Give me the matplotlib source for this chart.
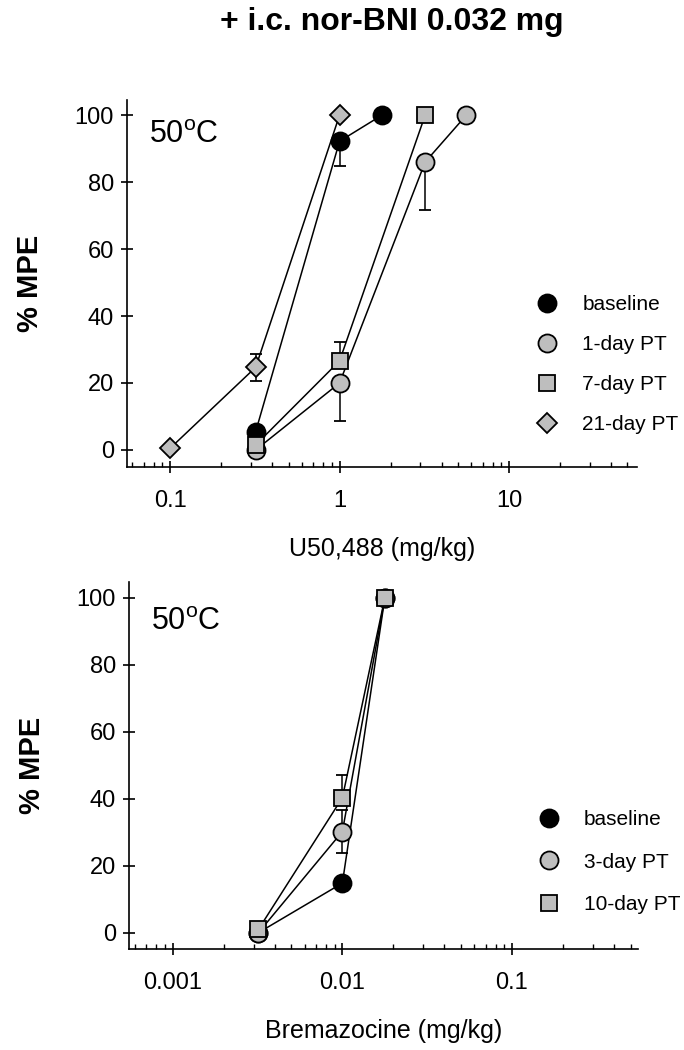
import matplotlib
matplotlib.use("Agg")
import matplotlib.pyplot as plt
from matplotlib.lines import Line2D
from matplotlib.ticker import LogLocator, FixedLocator, NullFormatter

plt.rcParams['font.family'] = ['Liberation Sans', 'DejaVu Sans']
plt.rcParams['mathtext.fontset'] = 'custom'
plt.rcParams['mathtext.rm'] = 'Liberation Sans'

GRAY = '#bebebe'

# ---------------- data: top panel (U50,488) ----------------
top_labels = ['baseline', '1-day PT', '7-day PT', '21-day PT']
top_markers = ['o', 'o', 's', 'D']
top_colors = ['black', GRAY, GRAY, GRAY]

u_base_x = [0.32, 1.0, 1.78]
u_base_y = [5.5, 92.2, 100]
u_base_lo = [0, 7.4, 0]
u_base_hi = [0, 0, 0]

u_d1_x = [0.32, 1.0, 3.2, 5.6]
u_d1_y = [0, 20, 86, 100]
u_d1_lo = [0, 11.3, 14.4, 0]
u_d1_hi = [0, 0, 0, 0]

u_d7_x = [0.32, 1.0, 3.2]
u_d7_y = [1.5, 26.6, 100]
u_d7_lo = [0, 0, 0]
u_d7_hi = [0, 5.7, 0]

u_d21_x = [0.1, 0.32, 1.0]
u_d21_y = [0.5, 24.7, 100]
u_d21_lo = [0, 4.1, 0]
u_d21_hi = [0, 3.9, 0]

# ---------------- data: bottom panel (Bremazocine) ----------------
bot_labels = ['baseline', '3-day PT', '10-day PT']
bot_markers = ['o', 'o', 's']
bot_colors = ['black', GRAY, GRAY]

b_base_x = [0.0032, 0.01, 0.0178]
b_base_y = [0, 14.8, 100]
b_base_lo = [0, 0, 0]
b_base_hi = [0, 0, 0]

b_d3_x = [0.0032, 0.01, 0.0178]
b_d3_y = [0, 30.2, 100]
b_d3_lo = [0, 6.3, 0]
b_d3_hi = [0, 6.3, 0]

b_d10_x = [0.0032, 0.01, 0.0178]
b_d10_y = [1.0, 40.3, 100]
b_d10_lo = [0, 0, 0]
b_d10_hi = [0, 6.7, 0]

yticks = [0, 20, 40, 60, 80, 100]
top_xticks = [0.1, 1, 10]
top_xticklabels = ['0.1', '1', '10']
bot_xticks = [0.001, 0.01, 0.1]
bot_xticklabels = ['0.001', '0.01', '0.1']

fig = plt.figure(figsize=(6.84, 10.5), dpi=100)

ms_map = {'o': 13, 's': 11, 'D': 10.5}


def style_axes(ax, xlim, ylim, xticks, xticklabels, xlabel, label_y):
    ax.set_xscale('log')
    ax.set_xlim(*xlim)
    ax.set_ylim(*ylim)
    for s in ['top', 'right']:
        ax.spines[s].set_visible(False)
    for s in ['left', 'bottom']:
        ax.spines[s].set_linewidth(1.2)
    ax.set_yticks(yticks)
    ax.set_yticklabels([str(v) for v in yticks])
    ax.xaxis.set_major_locator(FixedLocator(xticks))
    ax.set_xticklabels(xticklabels)
    ax.xaxis.set_minor_locator(LogLocator(base=10, subs=range(2, 10)))
    ax.xaxis.set_minor_formatter(NullFormatter())
    ax.tick_params(axis='both', which='major', direction='inout', length=9,
                   width=1.2, labelsize=17)
    ax.tick_params(axis='y', which='major', pad=5)
    ax.tick_params(axis='x', which='major', pad=12)
    ax.tick_params(axis='x', which='minor', direction='in', length=3.5, width=1.0)
    ax.set_xlabel(xlabel, fontsize=18, labelpad=18)
    ax.set_ylabel('% MPE', fontsize=21, fontweight='bold', labelpad=22)
    ax.text(0.043, label_y, '50$^{\\rm o}$C', transform=ax.transAxes,
            fontsize=22, ha='left', va='center')


def plot_series(ax, xs, ys, lo, hi, marker, color, z):
    ax.errorbar(xs, ys, yerr=[lo, hi], fmt='-', color='black', lw=1.1,
                marker=marker, ms=ms_map[marker], mfc=color, mec='black',
                mew=1.3, ecolor='black', elinewidth=1.1, capsize=4.5,
                capthick=1.1, zorder=z, clip_on=False)


# ---------------- top axes ----------------
ax1 = fig.add_axes([0.1857, 0.5552, 0.7456, 0.3495])
top_series = [
    (u_d1_x, u_d1_y, u_d1_lo, u_d1_hi, 1),
    (u_base_x, u_base_y, u_base_lo, u_base_hi, 0),
    (u_d7_x, u_d7_y, u_d7_lo, u_d7_hi, 2),
    (u_d21_x, u_d21_y, u_d21_lo, u_d21_hi, 3),
]
for k, (xs, ys, lo, hi, idx) in enumerate(top_series):
    plot_series(ax1, xs, ys, lo, hi, top_markers[idx], top_colors[idx], 3 + k)
style_axes(ax1, (0.0557, 56.9), (-5.1, 104.5), top_xticks, top_xticklabels,
           'U50,488 (mg/kg)', 0.905)
handles = [Line2D([], [], ls='none', marker=top_markers[i], ms=ms_map[top_markers[i]],
                  mfc=top_colors[i], mec='black', mew=1.3) for i in range(len(top_labels))]
ax1.legend(handles, top_labels, loc='upper left', bbox_to_anchor=(0.803, 0.468),
           frameon=False, fontsize=15, handlelength=1.0, handletextpad=1.2,
           labelspacing=1.0, borderpad=0, borderaxespad=0)

# ---------------- bottom axes ----------------
ax2 = fig.add_axes([0.1886, 0.0962, 0.7441, 0.3495])
bot_series = [
    (b_base_x, b_base_y, b_base_lo, b_base_hi, 0),
    (b_d3_x, b_d3_y, b_d3_lo, b_d3_hi, 1),
    (b_d10_x, b_d10_y, b_d10_lo, b_d10_hi, 2),
]
for k, (xs, ys, lo, hi, idx) in enumerate(bot_series):
    plot_series(ax2, xs, ys, lo, hi, bot_markers[idx], bot_colors[idx], 3 + k)
style_axes(ax2, (0.000552, 0.553), (-4.87, 104.7), bot_xticks, bot_xticklabels,
           'Bremazocine (mg/kg)', 0.891)
handles2 = [Line2D([], [], ls='none', marker=bot_markers[i], ms=ms_map[bot_markers[i]],
                   mfc=bot_colors[i], mec='black', mew=1.3) for i in range(len(bot_labels))]
ax2.legend(handles2, bot_labels, loc='upper left', bbox_to_anchor=(0.804, 0.378),
           frameon=False, fontsize=15, handlelength=1.0, handletextpad=1.2,
           labelspacing=1.12, borderpad=0, borderaxespad=0)

fig.text(0.573, 0.979, '+ i.c. nor-BNI 0.032 mg', ha='center', va='center',
         fontsize=23, fontweight='bold')

fig.savefig('out.png', dpi=100)
